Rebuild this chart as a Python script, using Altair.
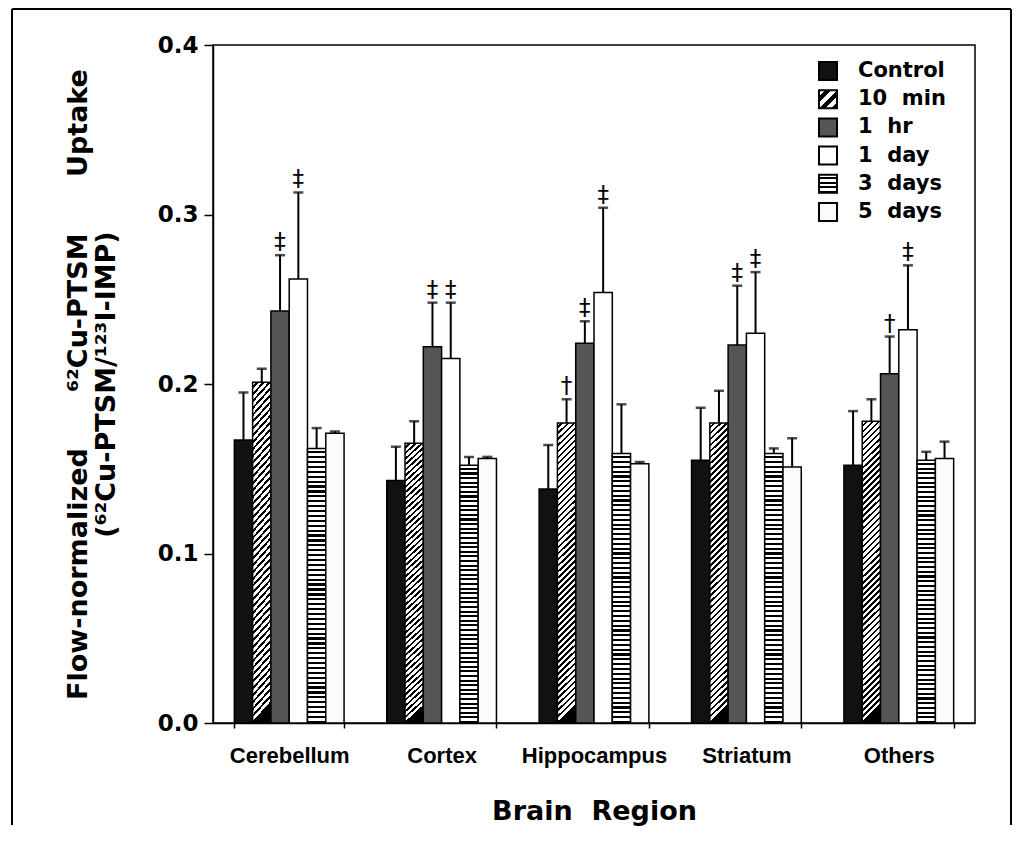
import altair as alt
import pandas as pd

regions = ["Cerebellum", "Cortex", "Hippocampus", "Striatum", "Others"]
series = ["Control", "10 min", "1 hr", "1 day", "3 days", "5 days"]

# mean uptake per region, in series order
cerebellum_mean = [0.167, 0.201, 0.243, 0.262, 0.162, 0.171]
cortex_mean = [0.143, 0.165, 0.222, 0.215, 0.152, 0.156]
hippocampus_mean = [0.138, 0.177, 0.224, 0.254, 0.159, 0.153]
striatum_mean = [0.155, 0.177, 0.223, 0.230, 0.159, 0.151]
others_mean = [0.152, 0.178, 0.206, 0.232, 0.155, 0.156]

# upper error (SD) per region, in series order
cerebellum_sd = [0.028, 0.008, 0.033, 0.051, 0.012, 0.001]
cortex_sd = [0.020, 0.013, 0.026, 0.033, 0.005, 0.001]
hippocampus_sd = [0.026, 0.014, 0.013, 0.050, 0.029, 0.001]
striatum_sd = [0.031, 0.019, 0.035, 0.036, 0.003, 0.017]
others_sd = [0.032, 0.013, 0.022, 0.038, 0.005, 0.010]

# significance markers
cerebellum_sig = ["", "", "‡", "‡", "", ""]
cortex_sig = ["", "", "‡", "‡", "", ""]
hippocampus_sig = ["", "†", "‡", "‡", "", ""]
striatum_sig = ["", "", "‡", "‡", "", ""]
others_sig = ["", "", "†", "‡", "", ""]

y_ticks = [0.0, 0.1, 0.2, 0.3, 0.4]

means = [cerebellum_mean, cortex_mean, hippocampus_mean, striatum_mean, others_mean]
sds = [cerebellum_sd, cortex_sd, hippocampus_sd, striatum_sd, others_sd]
sigs = [cerebellum_sig, cortex_sig, hippocampus_sig, striatum_sig, others_sig]

rows = []
for r, m, s, g in zip(regions, means, sds, sigs):
    for name, mv, sv, gv in zip(series, m, s, g):
        rows.append({"region": r, "series": name, "mean": mv, "upper": mv + sv, "sig": gv})
df = pd.DataFrame(rows)


def stripes(n, dark_frac, x2, y2, dark="black", light="white"):
    stops = []
    for k in range(n):
        a = k / n
        b = (k + 1 - dark_frac) / n
        c = (k + 1) / n
        stops += [
            {"offset": round(a, 5), "color": light},
            {"offset": round(b, 5), "color": light},
            {"offset": round(b, 5), "color": dark},
            {"offset": round(c, 5), "color": dark},
        ]
    return {"gradient": "linear", "x1": 0, "y1": 0, "x2": x2, "y2": y2, "stops": stops}


bar_fill = {
    "Control": "#111111",
    "10 min": stripes(50, 0.42, 0.06, 1),
    "1 hr": "#555555",
    "1 day": "white",
    "3 days": stripes(56, 0.45, 0, 1),
    "5 days": "#fbfbfb",
}
legend_fill = {
    "Control": "#111111",
    "10 min": stripes(3, 0.45, 1, 1),
    "1 hr": "#555555",
    "1 day": "white",
    "3 days": stripes(4, 0.45, 0, 1),
    "5 days": "#fbfbfb",
}

NB = "\u00a0"
y_title = [
    "Flow-normalized" + NB * 6 + "⁶²Cu-PTSM" + NB * 6 + "Uptake",
    "(⁶²Cu-PTSM/¹²³I-IMP)",
]

X = alt.X(
    "region:N",
    sort=regions,
    scale=alt.Scale(domain=regions, paddingInner=0.28, paddingOuter=0.14),
    title="Brain" + NB * 2 + "Region",
    axis=alt.Axis(
        labelAngle=0, labelFont="Liberation Sans", labelFontWeight="bold",
        labelFontSize=22, labelColor="black", labelPadding=17,
        tickBand="extent", tickSize=5, tickWidth=1.5, tickColor="black",
        domainColor="black", domainWidth=1.5,
        titleFont="DejaVu Sans", titleFontSize=27, titleFontWeight="bold",
        titleColor="black", titlePadding=32,
    ),
)
XO = alt.XOffset("series:N", sort=series,
                 scale=alt.Scale(domain=series, paddingInner=0, paddingOuter=0))
Y = alt.Y(
    "mean:Q",
    scale=alt.Scale(domain=[0, 0.4], nice=False),
    title=y_title,
    axis=alt.Axis(
        values=y_ticks, format=".1f", grid=False,
        labelFont="DejaVu Sans", labelFontWeight="bold", labelFontSize=23,
        labelColor="black", labelPadding=6,
        tickSize=9, tickWidth=1.5, tickColor="black",
        domainColor="black", domainWidth=1.5,
        titleFont="DejaVu Sans", titleFontSize=27, titleFontWeight="bold",
        titleColor="black", titlePadding=37, titleLineHeight=28,
    ),
)

base = alt.Chart(df)
layers = []
for s in series:
    layers.append(
        base.transform_filter(alt.datum.series == s)
        .mark_bar(fill=bar_fill[s], stroke="black", strokeWidth=1.5)
        .encode(x=X, xOffset=XO, y=Y)
    )

err = base.mark_rule(color="black", strokeWidth=2).encode(
    x=X, xOffset=XO, y="mean:Q", y2="upper:Q"
)
caps = base.mark_tick(color="black", thickness=2.5, size=10).encode(
    x=X, xOffset=XO, y="upper:Q"
)
marks = base.transform_filter(alt.datum.sig != "").mark_text(
    baseline="bottom", dy=-1, fontSize=23, font="DejaVu Sans", color="black"
).encode(x=X, xOffset=XO, y="upper:Q", text="sig:N")
layers += [err, caps, marks]

# custom legend (patterned swatches)
for i, s in enumerate(series):
    cy = 26 + 28.2 * i
    one = alt.Chart(pd.DataFrame({"series": [s]}))
    layers.append(
        one.mark_rect(fill=legend_fill[s], stroke="black", strokeWidth=2).encode(
            x=alt.value(606), x2=alt.value(624), y=alt.value(cy - 9), y2=alt.value(cy + 9)
        )
    )
    layers.append(
        one.transform_calculate(label="replace(datum.series, ' ', '\u00a0\u00a0')")
        .mark_text(align="left", baseline="middle", font="DejaVu Sans",
                   fontWeight="bold", fontSize=21, color="black")
        .encode(x=alt.value(645), y=alt.value(cy), text="label:N")
    )

# outer figure frame (left, top, right edges)
frame = alt.Chart(pd.DataFrame({"k": [0]}))
for xa, xb, ya, yb in [(-201, -201, -36, 780), (-201, 798, -36, -36), (798, 798, -36, 780)]:
    layers.append(
        frame.mark_rule(color="black", strokeWidth=2).encode(
            x=alt.value(xa), x2=alt.value(xb), y=alt.value(ya), y2=alt.value(yb)
        )
    )

chart = (
    alt.layer(*layers)
    .properties(width=762, height=678, padding={"left": 3, "top": 0, "right": 0, "bottom": 0},
                background="white")
    .configure_view(stroke="black", strokeWidth=1.5)
)

chart.save("out.html", embed_options={"renderer": "svg", "actions": False})
